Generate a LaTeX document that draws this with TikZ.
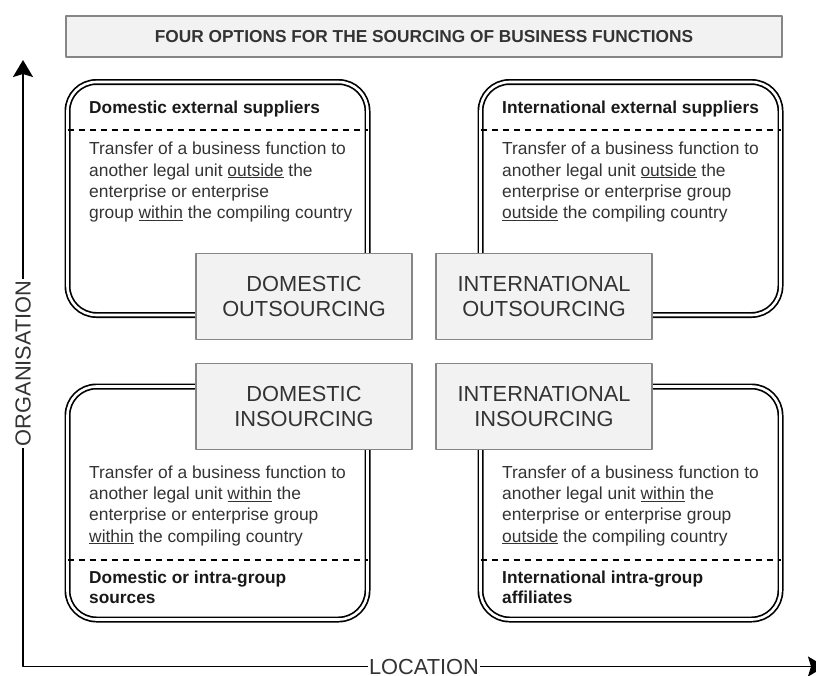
\documentclass[tikz,border=0pt]{standalone}
\usepackage{fontspec}
\setmainfont{Liberation Sans}
\usetikzlibrary{arrows.meta}
\definecolor{boxgray}{HTML}{F2F2F2}
\definecolor{edgegray}{HTML}{868686}
\definecolor{txtgray}{HTML}{333333}
\begin{document}
\begin{tikzpicture}[x=1pt, y=-1pt, line join=round, font=\fontsize{17.4}{21.2}\selectfont]
  \tikzset{quad/.style={draw, double, line width=1.7pt, double distance=2.6pt, rounded corners=29pt,
      minimum width=300pt, minimum height=233pt, inner sep=0pt, outer sep=0pt},
    mid/.style={draw=edgegray, fill=boxgray, line width=1.6pt, minimum width=216.5pt, minimum height=86pt,
      align=center, text=txtgray, font=\fontsize{21.8}{25.5}\selectfont},
    head/.style={anchor=base west, inner sep=0pt, align=left, text=black!90, font=\fontsize{17.3}{20}\selectfont\bfseries},
    body/.style={anchor=base west, inner sep=0pt, align=left, text=txtgray},
    sep/.style={dash pattern=on 6pt off 5pt, line width=1.5pt},
    axlabel/.style={fill=white, inner sep=1.5pt, text=txtgray, font=\fontsize{21.8}{24}\selectfont}}
  \useasboundingbox (0,0) rectangle (816,675);

  % heading
  \node[draw=edgegray, fill=boxgray, line width=1.6pt, minimum width=716.5pt, minimum height=41.5pt,
    text=txtgray, font=\fontsize{17.3}{20}\selectfont\bfseries] (title) at (424,36.5)
    {FOUR OPTIONS FOR THE SOURCING OF BUSINESS FUNCTIONS};

  % axes
  \coordinate (ytip) at (23,60);
  \coordinate (origin) at (23,666.5);
  \coordinate (xtip) at (825,666.5);
  \draw[line width=1.8pt, {Stealth[length=17pt,width=20pt,inset=3pt]}-{Stealth[length=17pt,width=20pt,inset=3pt]}]
    (ytip) -- node[axlabel, rotate=90]{ORGANISATION} (origin) -- node[axlabel]{LOCATION} (xtip);

  % the four options (multi-line texts sit on the baseline of their last line)
  \node[quad] (dext) at (217.5,198.5) {};
  \node[quad] (iext) at (630.5,198.5) {};
  \node[quad] (dint) at (217.5,503) {};
  \node[quad] (iint) at (630.5,503) {};
  \draw[sep] ([yshift=-48pt]dext.north west) -- ([yshift=-48pt]dext.north east);
  \draw[sep] ([yshift=-48pt]iext.north west) -- ([yshift=-48pt]iext.north east);
  \draw[sep] ([yshift=59.5pt]dint.south west) -- ([yshift=59.5pt]dint.south east);
  \draw[sep] ([yshift=59.5pt]iint.south west) -- ([yshift=59.5pt]iint.south east);

  \node[head] (dexth) at (89,113) {Domestic external suppliers};
  \node[body] (dextb) at (89,218.5) {Transfer of a business function to\\another legal unit \underline{outside} the\\enterprise or enterprise\\group \underline{within} the compiling country};
  \node[head] (iexth) at (502,113) {International external suppliers};
  \node[body] (iextb) at (502,218.5) {Transfer of a business function to\\another legal unit \underline{outside} the\\enterprise or enterprise group\\\underline{outside} the compiling country};
  \node[body] (dintb) at (89,542) {Transfer of a business function to\\another legal unit \underline{within} the\\enterprise or enterprise group\\\underline{within} the compiling country};
  \node[head] (dinth) at (89,603) {Domestic or intra-group\\sources};
  \node[body] (iintb) at (502,542) {Transfer of a business function to\\another legal unit \underline{within} the\\enterprise or enterprise group\\\underline{outside} the compiling country};
  \node[head] (iinth) at (502,603) {International intra-group\\affiliates};

  % sourcing labels on top
  \node[mid] (dout) at (304,296.5) {DOMESTIC\\OUTSOURCING};
  \node[mid] (iout) at (544,296.5) {INTERNATIONAL\\OUTSOURCING};
  \node[mid] (din) at (304,406.5) {DOMESTIC\\INSOURCING};
  \node[mid] (iin) at (544,406.5) {INTERNATIONAL\\INSOURCING};
\end{tikzpicture}
\end{document}
